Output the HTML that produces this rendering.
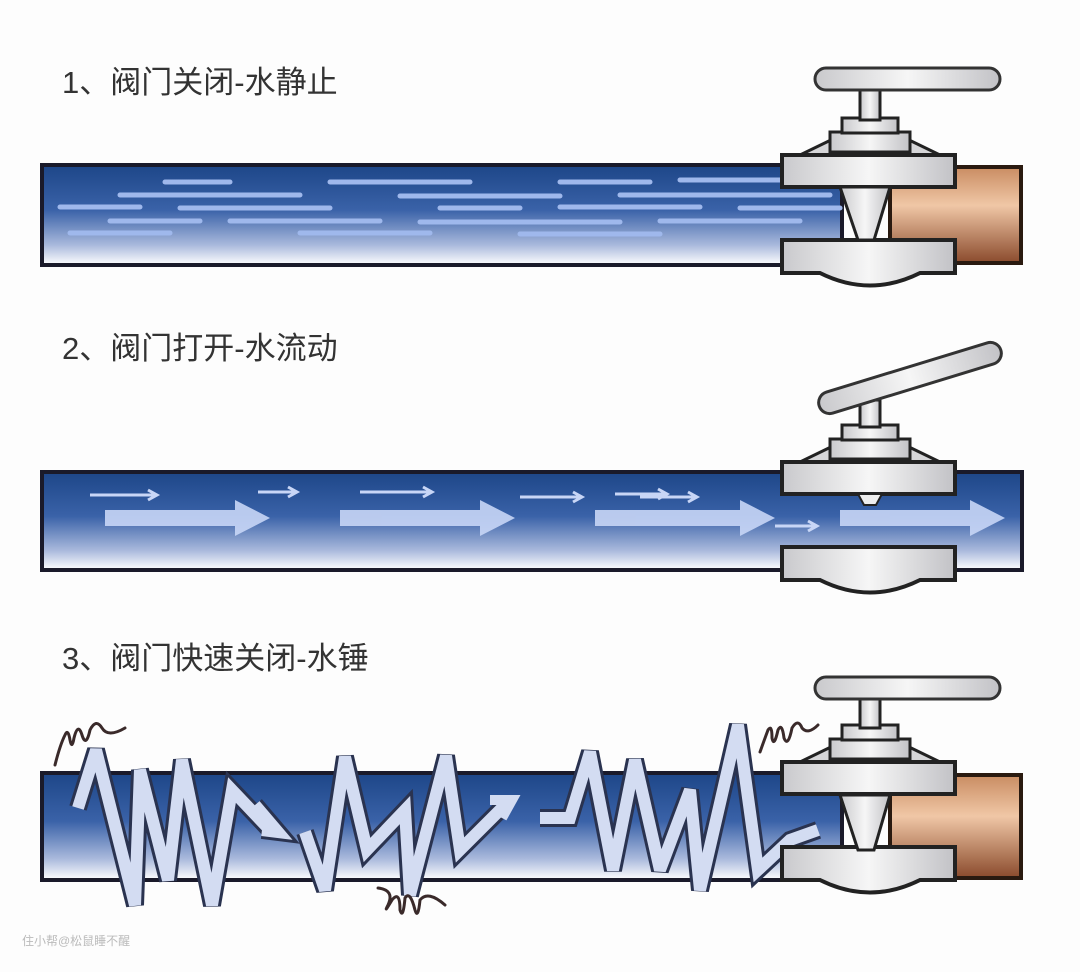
<!DOCTYPE html>
<html><head><meta charset="utf-8"><style>
html,body{margin:0;padding:0;background:#fdfdfd;}
svg{display:block}
text{font-family:"Liberation Sans","Noto Sans CJK SC",sans-serif;}
</style></head><body>
<svg width="1080" height="972" viewBox="0 0 1080 972" xmlns="http://www.w3.org/2000/svg">
<defs>
<linearGradient id="pipe" x1="0" y1="0" x2="0" y2="1">
<stop offset="0" stop-color="#1d4688"/><stop offset="0.45" stop-color="#3a62a8"/><stop offset="0.8" stop-color="#a9b9dc"/><stop offset="1" stop-color="#ffffff"/></linearGradient>
<linearGradient id="cu" x1="0" y1="0" x2="0" y2="1">
<stop offset="0" stop-color="#c98c62"/><stop offset="0.4" stop-color="#f0c7a6"/><stop offset="1" stop-color="#8a4a2c"/></linearGradient>
<linearGradient id="metal" x1="0" y1="0" x2="1" y2="0">
<stop offset="0" stop-color="#c9c9cc"/><stop offset="0.5" stop-color="#f6f6f6"/><stop offset="1" stop-color="#c2c2c6"/></linearGradient>
<g id="valvebody">
<path d="M800 155 L835 138 L905 138 L940 155 Z" fill="#d6d6d8" stroke="#222" stroke-width="3"/>
<rect x="830" y="132" width="80" height="20" fill="url(#metal)" stroke="#222" stroke-width="3"/>
<rect x="842" y="118" width="56" height="15" fill="url(#metal)" stroke="#222" stroke-width="3"/>
<rect x="782" y="155" width="173" height="32" fill="url(#metal)" stroke="#222" stroke-width="4"/>
<path d="M782 240 H955 V273 H920 Q870 298 820 273 H782 Z" fill="url(#metal)" stroke="#222" stroke-width="4"/>
</g>
</defs>

<text x="62" y="93" font-size="31" fill="#333">1、阀门关闭-水静止</text>
<text x="62" y="359" font-size="31" fill="#333">2、阀门打开-水流动</text>
<text x="62" y="669" font-size="31" fill="#333">3、阀门快速关闭-水锤</text>

<!-- Panel 1 -->
<rect x="42" y="165" width="800" height="100" fill="url(#pipe)" stroke="#1a1a2a" stroke-width="4"/>
<rect x="890" y="167" width="131" height="96" fill="url(#cu)" stroke="#2a1a10" stroke-width="4"/>
<g stroke="#9fb8ec" stroke-width="5" stroke-linecap="round">
<line x1="165" y1="182" x2="230" y2="182"/><line x1="330" y1="182" x2="470" y2="182"/><line x1="560" y1="182" x2="650" y2="182"/><line x1="680" y1="180" x2="780" y2="180"/>
<line x1="120" y1="195" x2="300" y2="195"/><line x1="400" y1="196" x2="560" y2="196"/><line x1="620" y1="195" x2="830" y2="195"/>
<line x1="60" y1="207" x2="140" y2="207"/><line x1="180" y1="208" x2="330" y2="208"/><line x1="440" y1="208" x2="520" y2="208"/><line x1="560" y1="207" x2="700" y2="207"/><line x1="740" y1="208" x2="840" y2="208"/>
<line x1="110" y1="221" x2="200" y2="221"/><line x1="230" y1="221" x2="380" y2="221"/><line x1="420" y1="222" x2="620" y2="222"/><line x1="660" y1="221" x2="800" y2="221"/>
<line x1="70" y1="233" x2="170" y2="233"/><line x1="300" y1="233" x2="430" y2="233"/><line x1="520" y1="234" x2="660" y2="234"/>
</g>
<use href="#valvebody"/>
<path d="M840 187 L890 187 L874 240 L858 240 Z" fill="url(#metal)" stroke="#222" stroke-width="3"/>
<rect x="860" y="88" width="20" height="32" fill="url(#metal)" stroke="#222" stroke-width="3"/>
<rect x="815" y="68" width="185" height="22" rx="11" fill="url(#metal)" stroke="#333" stroke-width="3"/>

<!-- Panel 2 -->
<rect x="42" y="472" width="980" height="98" fill="url(#pipe)" stroke="#1a1a2a" stroke-width="4"/>
<g fill="#c8d6f6" opacity="0.9">
<path d="M105 510 H235 V500 L270 518 L235 536 V526 H105 Z"/>
<path d="M340 510 H480 V500 L515 518 L480 536 V526 H340 Z"/>
<path d="M595 510 H740 V500 L775 518 L740 536 V526 H595 Z"/>
<path d="M840 510 H970 V500 L1005 518 L970 536 V526 H840 Z"/>
</g>
<g stroke="#c8d6f6" stroke-width="3" fill="none">
<path d="M90 495 H155 M148 490 L157 495 L148 500"/><path d="M258 492 H295 M288 487 L297 492 L288 497"/>
<path d="M360 492 H430 M423 487 L432 492 L423 497"/><path d="M520 497 H580 M573 492 L582 497 L573 502"/>
<path d="M615 494 H665 M658 489 L667 494 L658 499"/><path d="M775 526 H815 M808 521 L817 526 L808 531"/>
<path d="M640 497 H695 M688 492 L697 497 L688 502"/>
</g>
<use href="#valvebody" transform="translate(0,307)"/>
<path d="M858 494 L882 494 L876 505 L864 505 Z" fill="#eee" stroke="#222" stroke-width="2"/>
<rect x="860" y="400" width="20" height="27" fill="url(#metal)" stroke="#222" stroke-width="3"/>
<g transform="rotate(-17 910 378)"><rect x="815" y="367" width="190" height="22" rx="11" fill="url(#metal)" stroke="#333" stroke-width="3"/></g>

<!-- Panel 3 -->
<rect x="42" y="773" width="800" height="107" fill="url(#pipe)" stroke="#1a1a2a" stroke-width="4"/>
<rect x="890" y="775" width="131" height="103" fill="url(#cu)" stroke="#2a1a10" stroke-width="4"/>
<g fill="none" stroke-linejoin="miter" stroke-miterlimit="3" stroke-linecap="butt">
<path d="M78 808 L96 750 L135 905 L140 770 L168 880 L182 760 L212 905 L232 790 L268 828 M255 805 L278 832 L262 830" stroke="#2a3350" stroke-width="18"/>
<path d="M78 808 L96 750 L135 905 L140 770 L168 880 L182 760 L212 905 L232 790 L268 828 M255 805 L278 832 L262 830" stroke="#d3dcf2" stroke-width="12"/>
<path d="M305 832 L325 890 L345 757 L367 850 L405 810 L410 895 L446 756 L460 850 L505 805" stroke="#2a3350" stroke-width="18"/>
<path d="M305 832 L325 890 L345 757 L367 850 L405 810 L410 895 L446 756 L460 850 L505 805" stroke="#d3dcf2" stroke-width="12"/>
<path d="M490 800 L512 800 L502 818" stroke="#d3dcf2" stroke-width="10"/>
<path d="M540 818 L570 818 L590 752 L613 870 L635 760 L660 870 L690 790 L700 890 L738 725 L758 870 L790 840 L818 830" stroke="#2a3350" stroke-width="18"/>
<path d="M540 818 L570 818 L590 752 L613 870 L635 760 L660 870 L690 790 L700 890 L738 725 L758 870 L790 840 L818 830" stroke="#d3dcf2" stroke-width="12"/>
</g>
<g fill="none" stroke="#3a2a2a" stroke-width="3" stroke-linecap="round">
<path d="M55 765 Q60 745 65 735 Q68 728 70 740 Q72 750 74 738 Q78 722 82 735 Q86 748 90 730 Q96 718 102 728 Q108 738 125 728"/>
<path d="M378 888 Q395 890 388 905 Q383 915 392 900 Q400 890 400 910 Q403 920 405 898 Q410 890 415 910 Q418 920 420 900 Q428 890 445 905"/>
<path d="M760 752 Q765 738 768 730 Q772 724 772 738 Q774 748 778 730 Q782 722 784 738 Q788 748 792 728 Q798 718 802 728 Q808 735 818 725"/>
</g>
<use href="#valvebody" transform="translate(0,607)"/>
<path d="M840 795 L890 795 L874 850 L858 850 Z" fill="url(#metal)" stroke="#222" stroke-width="3"/>
<rect x="860" y="696" width="20" height="32" fill="url(#metal)" stroke="#222" stroke-width="3"/>
<rect x="815" y="677" width="185" height="22" rx="11" fill="url(#metal)" stroke="#333" stroke-width="3"/>

<text x="22" y="945" font-size="12" fill="#bbb">住小帮@松鼠睡不醒</text>
</svg>
</body></html>
